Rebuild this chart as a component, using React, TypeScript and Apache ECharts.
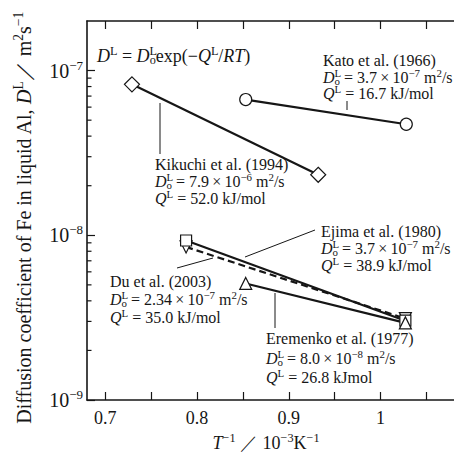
import React, { useEffect, useRef } from 'react';
import * as echarts from 'echarts';

// Axis ranges / ticks
const xMin = 0.68;
const xMax = 1.08;
const xTickValues = [0.7, 0.75, 0.8, 0.85, 0.9, 0.95, 1.0, 1.05];
const xLabelValues = [0.7, 0.8, 0.9, 1.0];
const yMin = 1e-9;
const yMax = 2e-7;
const yMinorTicks = [
  2e-9, 3e-9, 4e-9, 5e-9, 6e-9, 7e-9, 8e-9, 9e-9,
  2e-8, 3e-8, 4e-8, 5e-8, 6e-8, 7e-8, 8e-8, 9e-8,
];

// Series data: [1/T (10^-3 K^-1), D (m^2/s)]
const katoData = [[0.853, 6.67e-8], [1.028, 4.72e-8]];
const kikuchiData = [[0.729, 8.25e-8], [0.932, 2.33e-8]];
const ejimaData = [[0.788, 9.3e-9], [1.027, 3.03e-9]];
const duData = [[0.788, 8.5e-9], [1.027, 3.12e-9]];
const eremenkoData = [[0.853, 5.1e-9], [1.027, 2.94e-9]];

const FONT = "'Liberation Serif', 'Times New Roman', serif";
const INK = '#161616';
const THIN = '\u2009';

const richBase = (size: number, lh: number) => ({
  n: { fontFamily: FONT, fontSize: size, lineHeight: lh, color: INK },
  i: { fontFamily: FONT, fontSize: size, lineHeight: lh, color: INK, fontStyle: 'italic' },
  sup: { fontFamily: FONT, fontSize: size * 0.68, lineHeight: lh, color: INK, padding: [0, 0, size * 0.55, 0] },
  supz: { fontFamily: FONT, fontSize: size * 0.68, lineHeight: lh, color: INK, padding: [0, 0, size * 0.55, 0], width: 0.01 },
  sub: { fontFamily: FONT, fontSize: size * 0.68, lineHeight: lh, color: INK, padding: [size * 0.45, 0, 0, 0] },
});

const D0 = '{i|D}{supz|L}{sub|o}';
const QL = '{i|Q}{sup|L}';

function block(name: string, d0: string, exp: string, q: string, unit: string) {
  return [
    `{n|${name}}`,
    `${D0}{n| = ${d0}${THIN}×${THIN}10}{sup|−${exp}}{n| m}{sup|2}{n|/s}`,
    `${QL}{n| = ${q} ${unit}}`,
  ].join('\n');
}

function textEl(x: number, y: number, text: string, size: number, lh: number, align = 'left', vAlign = 'top', rotation = 0) {
  return {
    type: 'text',
    x,
    y,
    rotation,
    silent: true,
    z: 10,
    style: {
      text,
      rich: richBase(size, lh),
      fontFamily: FONT,
      fontSize: size,
      fill: INK,
      align,
      textAlign: align,
      verticalAlign: vAlign,
      textVerticalAlign: vAlign,
    },
  };
}

function leader(x1: number, y1: number, x2: number, y2: number) {
  return {
    type: 'line',
    silent: true,
    shape: { x1, y1, x2, y2 },
    style: { stroke: INK, lineWidth: 1 },
  };
}

export default function App() {
  const ref = useRef<HTMLDivElement>(null);

  useEffect(() => {
    if (!ref.current) return;
    const chart = echarts.init(ref.current, undefined, { renderer: 'svg' });

    const lineSeries = (data: number[][], symbol: string, size: number, dashed = false, rotate = 0) => ({
      type: 'line',
      data,
      symbol,
      symbolSize: size,
      symbolRotate: rotate,
      showSymbol: true,
      showAllSymbol: true,
      lineStyle: { color: INK, width: 2.2, type: dashed ? [7, 4] : 'solid' },
      itemStyle: { color: '#fff', borderColor: INK, borderWidth: 1.2 },
      z: 3,
      silent: true,
    });

    const option: any = {
      animation: false,
      backgroundColor: '#fff',
      grid: { left: 87, top: 21, right: -9, bottom: 54, containLabel: false },
      xAxis: [
        {
          type: 'value',
          min: xMin,
          max: xMax,
          position: 'bottom',
          axisLine: { show: true, lineStyle: { color: INK, width: 1.6 } },
          axisTick: { show: true, inside: true, length: 8, customValues: xTickValues, lineStyle: { color: INK, width: 1.2 } },
          axisLabel: {
            show: true,
            customValues: xLabelValues,
            margin: 9,
            fontFamily: FONT,
            fontSize: 18,
            color: INK,
            formatter: (v: number) => String(Math.round(v * 10) / 10),
          },
          splitLine: { show: false },
        },
        {
          type: 'value',
          min: xMin,
          max: xMax,
          position: 'top',
          axisLine: { show: true, lineStyle: { color: INK, width: 1.6 } },
          axisTick: { show: true, inside: true, length: 8, customValues: xTickValues, lineStyle: { color: INK, width: 1.2 } },
          axisLabel: { show: false },
          splitLine: { show: false },
        },
      ],
      yAxis: {
        type: 'log',
        logBase: 10,
        min: yMin,
        max: yMax,
        axisLine: { show: true, lineStyle: { color: INK, width: 1.6 } },
        axisTick: { show: true, inside: true, length: 8, lineStyle: { color: INK, width: 1.2 } },
        axisLabel: {
          margin: 4,
          showMaxLabel: false,
          formatter: (v: number) => `{b|10}{s|−${Math.abs(Math.round(Math.log10(v)))}}`,
          rich: {
            b: { fontFamily: FONT, fontSize: 20, color: INK, lineHeight: 22 },
            s: { fontFamily: FONT, fontSize: 13, color: INK, lineHeight: 22, padding: [0, 0, 11, 0] },
          },
        },
        splitLine: { show: false },
      },
      series: [
        {
          type: 'custom',
          silent: true,
          clip: false,
          xAxisIndex: 0,
          yAxisIndex: 0,
          data: yMinorTicks.map((v) => [xMin, v]),
          renderItem: (_p: any, api: any) => {
            const p = api.coord([api.value(0), api.value(1)]);
            return {
              type: 'line',
              shape: { x1: p[0], y1: p[1], x2: p[0] + 4.5, y2: p[1] },
              style: { stroke: INK, lineWidth: 1.2 },
            };
          },
        },
        lineSeries(katoData, 'circle', 12),
        lineSeries(kikuchiData, 'diamond', 15),
        lineSeries(duData, 'triangle', 12, true, 180),
        lineSeries(ejimaData, 'rect', 11),
        lineSeries(eremenkoData, 'triangle', 12),
      ],
      graphic: [
        textEl(97, 56, `{i|D}{sup|L}{n| = }${D0}{n|exp(−}${QL}{n|/}{i|RT}{n|)}`, 18, 22, 'left', 'middle'),
        textEl(323, 52.5, block('Kato et al. (1966)', '3.7', '7', '16.7', 'kJ/mol'), 16, 16.5),
        textEl(155, 155.5, block('Kikuchi et al. (1994)', '7.9', '6', '52.0', 'kJ/mol'), 16, 17),
        textEl(321, 222.5, block('Ejima et al. (1980)', '3.7', '7', '38.9', 'kJ/mol'), 16, 17),
        textEl(110, 272, block('Du et al. (2003)', '2.34', '7', '35.0', 'kJ/mol'), 16, 18),
        textEl(266, 329, block('Eremenko et al. (1977)', '8.0', '8', '26.8', 'kJmol'), 16, 19.5),
        leader(347, 101, 347, 110),
        leader(160, 103, 160, 154),
        leader(315, 230, 245, 257),
        leader(177, 268, 213, 258),
        leader(275, 293, 275, 328),
        textEl(266, 443, '{i|T}{sup|−1}{n| ／ 10}{sup|−3}{n|K}{sup|−1}', 18, 18, 'center', 'middle'),
        textEl(24, 218, '{n|Diffusion coefficient of Fe in liquid Al, }{i|D}{sup|L}{n|／ m}{sup|2}{n|s}{sup|−1}', 20, 24, 'center', 'middle', Math.PI / 2),
      ],
    };

    chart.setOption(option);
    return () => chart.dispose();
  }, []);

  return (
    <div
      ref={ref}
      style={{ position: 'fixed', left: 0, top: 0, width: 454, height: 454, background: '#fff' }}
    />
  );
}
